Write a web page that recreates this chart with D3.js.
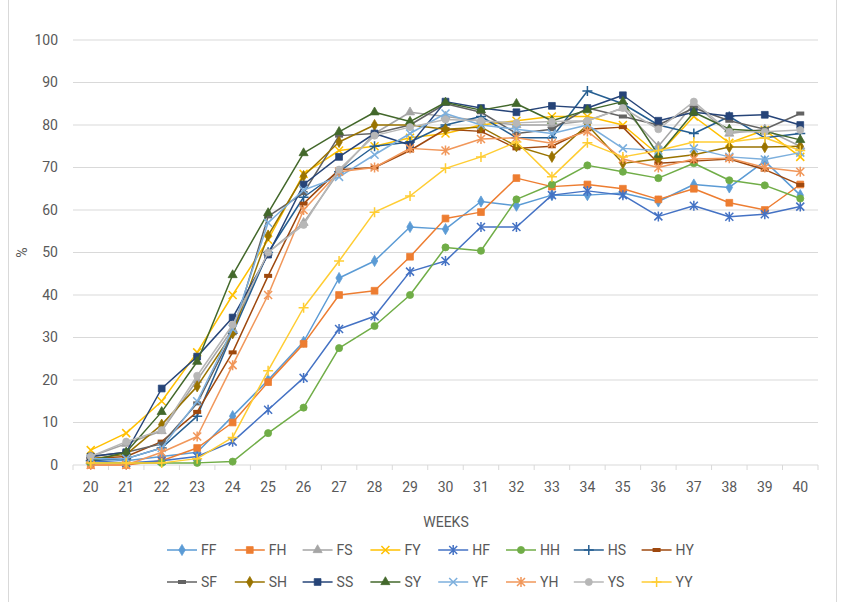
<!DOCTYPE html>
<html>
<head>
<meta charset="utf-8">
<script src="https://cdn.jsdelivr.net/npm/d3@7"></script>
<style>
  body { margin: 0; background: #fff; }
  svg { font-family: Roboto, "Open Sans", sans-serif; }
</style>
</head>
<body>
<svg id="chart" width="841" height="602"></svg>
<script>
let weeks = [20, 21, 22, 23, 24, 25, 26, 27, 28, 29, 30, 31, 32, 33, 34, 35, 36, 37, 38, 39, 40];
let yTicks = [0, 10, 20, 30, 40, 50, 60, 70, 80, 90, 100];

let seriesNames = ["FF", "FH", "FS", "FY", "HF", "HH", "HS", "HY", "SF", "SH", "SS", "SY", "YF", "YH", "YS", "YY"];

let FF = [1.5, 1, 2, 3, 11.5, 20, 29, 44, 48, 56, 55.5, 62, 61, 63.5, 63.5, 64, 62, 66, 65.3, 71.5, 63.5];
let FH = [0, 0, 1, 4, 10, 19.5, 28.5, 40, 41, 49, 58, 59.5, 67.5, 65.5, 66, 65, 62.5, 65, 61.7, 60, 66];
let FS = [2, 5, 8, 20, 32, 50, 57, 69, 78, 83, 82, 81, 80, 80, 81, 84, 75, 85, 78, 79, 75];
let FY = [3.5, 7.5, 15, 26.5, 40, 53, 68.5, 74, 75, 77, 78, 80, 81, 82, 82, 80, 73, 82, 75.8, 78.8, 72.5];
let HF = [1, 0.5, 1, 2, 5.5, 13, 20.5, 32, 35, 45.5, 48, 56, 56, 63.5, 64.5, 63.5, 58.5, 61, 58.4, 59, 60.8];
let HH = [0.5, 0.5, 0.5, 0.5, 0.8, 7.5, 13.5, 27.5, 32.7, 40, 51.2, 50.4, 62.5, 66, 70.5, 69, 67.5, 71, 67, 65.8, 62.7];
let HS = [1, 1.5, 4, 11.5, 31, 50, 63, 69, 75, 76, 80, 82, 77, 77, 88, 85, 80, 78, 82, 77, 78];
let HY = [1.5, 2, 5.5, 12.5, 26.5, 44.5, 61.5, 69.5, 70, 74, 79, 78.5, 74.5, 75, 79, 79.5, 71, 71.5, 72, 69.5, 65.9];
let SF = [2, 3, 5, 14.5, 31, 58.5, 64, 77.5, 78, 80, 85, 83, 78, 79, 84, 82, 80, 84, 81, 79, 82.7];
let SH = [1.5, 2.5, 9.5, 18.5, 31, 54, 68, 76, 80, 80, 79, 79.5, 75, 72.5, 80, 71, 72, 73, 74.8, 74.8, 75];
let SS = [2, 3, 18, 25.5, 34.7, 49.5, 66, 72.5, 78, 75.3, 85.5, 84, 83, 84.5, 84, 87, 81, 83, 82.1, 82.4, 80];
let SY = [1, 3, 12.5, 24.3, 44.7, 59.3, 73.4, 78.4, 83, 80.8, 85.3, 83.5, 85, 81, 83.5, 85.5, 73, 83, 79, 78.5, 76.5];
let YF = [1.5, 1.5, 4, 15, 32, 57, 64.7, 67.8, 73, 78, 82.7, 80, 79, 78, 80, 74.5, 74, 74.5, 72.5, 71.9, 73.5];
let YH = [0, 0, 3, 6.7, 23.5, 40, 60, 69, 70, 74.5, 74, 76.7, 77, 75.7, 78.5, 72, 70, 72, 72.2, 70, 69];
let YS = [2, 5.5, 8.2, 21, 33, 50, 56.5, 69.5, 77.5, 79.5, 81.3, 81, 80.5, 80.8, 81, 84, 79, 85.5, 78.4, 78.4, 78.8];
let YY = [0.5, 0.5, 0.5, 1.5, 6.5, 22.2, 37, 48, 59.5, 63.3, 69.8, 72.5, 76, 67.8, 75.8, 72.5, 74, 76, 76, 77, 74];

let seriesValues = [FF, FH, FS, FY, HF, HH, HS, HY, SF, SH, SS, SY, YF, YH, YS, YY];
let colors = ["#5B9BD5", "#ED7D31", "#A5A5A5", "#FFC000", "#4472C4", "#70AD47", "#255E91", "#9E480E",
              "#636363", "#997300", "#264478", "#43682B", "#7CAFDD", "#F1975A", "#B7B7B7", "#FFCD33"];
let markers = ["diamond", "square", "triangle", "x", "star", "circle", "plus", "dash",
               "dash", "diamond", "square", "triangle", "x", "star", "circle", "plus"];

let svg = d3.select("#chart");

let plotLeft = 73, plotRight = 818, plotTop = 40, plotBottom = 465;

// chart area border
svg.append("rect")
    .attr("x", 8.5).attr("y", -1)
    .attr("width", 828).attr("height", 604)
    .style("fill", "none")
    .style("stroke", "#d9d9d9");

let x = d3.scalePoint()
    .domain(weeks)
    .range([plotLeft, plotRight])
    .padding(0.5);

let y = d3.scaleLinear()
    .domain([0, 100])
    .range([plotBottom, plotTop]);

// gridlines
svg.append("g")
    .selectAll("line")
    .data(yTicks.slice(1))
    .enter().append("line")
    .attr("x1", plotLeft).attr("x2", plotRight)
    .attr("y1", d => y(d)).attr("y2", d => y(d))
    .style("stroke", "#d9d9d9")
    .style("stroke-width", 1);

// y labels
svg.append("g")
    .selectAll("text")
    .data(yTicks)
    .enter().append("text")
    .attr("x", 58)
    .attr("y", d => y(d))
    .attr("dy", "0.35em")
    .attr("text-anchor", "end")
    .style("font-size", "14px")
    .style("fill", "#595959")
    .text(d => d);

// x axis with tick marks between categories
let step = x.step();
svg.append("line")
    .attr("x1", plotLeft).attr("x2", plotRight)
    .attr("y1", plotBottom).attr("y2", plotBottom)
    .style("stroke", "#d9d9d9");
svg.append("g")
    .selectAll("line")
    .data(d3.range(weeks.length + 1))
    .enter().append("line")
    .attr("x1", i => plotLeft + i * step).attr("x2", i => plotLeft + i * step)
    .attr("y1", plotBottom).attr("y2", plotBottom + 5)
    .style("stroke", "#d9d9d9");
svg.append("g")
    .selectAll("text")
    .data(weeks)
    .enter().append("text")
    .attr("x", d => x(d))
    .attr("y", 492)
    .attr("text-anchor", "middle")
    .style("font-size", "14px")
    .style("fill", "#595959")
    .text(d => d);

// axis titles
svg.append("text")
    .attr("x", 446).attr("y", 527)
    .attr("text-anchor", "middle")
    .style("font-size", "14px")
    .style("fill", "#595959")
    .text("WEEKS");
svg.append("text")
    .attr("transform", "translate(27," + y(50) + ")rotate(-90)")
    .attr("text-anchor", "middle")
    .style("font-size", "14px")
    .style("fill", "#595959")
    .text("%");

function drawMarker(g, type, color) {
    if (type == "diamond" || type == "square" || type == "triangle" || type == "circle") {
        let sym = {diamond: d3.symbolDiamond, square: d3.symbolSquare, triangle: d3.symbolTriangle, circle: d3.symbolCircle}[type];
        let size = {diamond: 36, square: 46, triangle: 36, circle: 40}[type];
        g.append("path")
            .attr("d", d3.symbol().type(sym).size(size)())
            .style("fill", color)
            .style("stroke", color)
            .style("stroke-width", 0.75);
    } else if (type == "dash") {
        g.append("rect")
            .attr("x", -4).attr("y", -2)
            .attr("width", 8).attr("height", 4)
            .style("fill", color);
    } else {
        let p = {
            x: "M-4,-4L4,4M-4,4L4,-4",
            star: "M-4,-4L4,4M-4,4L4,-4M0,-5L0,5",
            plus: "M-5,0L5,0M0,-5L0,5"
        }[type];
        g.append("path")
            .attr("d", p)
            .style("fill", "none")
            .style("stroke", color)
            .style("stroke-width", 1.5);
    }
}

let line = d3.line()
    .x((d, i) => x(weeks[i]))
    .y(d => y(d));

// series
seriesNames.forEach(function(name, k) {
    let g = svg.append("g").attr("class", "series-" + name);
    g.append("path")
        .datum(seriesValues[k])
        .attr("d", line)
        .style("fill", "none")
        .style("stroke", colors[k])
        .style("stroke-width", 1.5)
        .style("stroke-linejoin", "round");
    seriesValues[k].forEach(function(v, i) {
        let m = g.append("g")
            .attr("transform", "translate(" + x(weeks[i]) + "," + y(v) + ")");
        drawMarker(m, markers[k], colors[k]);
    });
});

// legend
let legendX0 = 167, legendDx = 67.8;
let legendRows = [550, 582];
seriesNames.forEach(function(name, k) {
    let row = Math.floor(k / 8), col = k % 8;
    let lg = svg.append("g")
        .attr("transform", "translate(" + (legendX0 + col * legendDx) + "," + legendRows[row] + ")");
    lg.append("line")
        .attr("x1", 0).attr("x2", 30)
        .style("stroke", colors[k])
        .style("stroke-width", 1.5);
    drawMarker(lg.append("g").attr("transform", "translate(15,0)"), markers[k], colors[k]);
    lg.append("text")
        .attr("x", 34)
        .attr("dy", "0.35em")
        .style("font-size", "14px")
        .style("fill", "#595959")
        .text(name);
});
</script>
</body>
</html>
